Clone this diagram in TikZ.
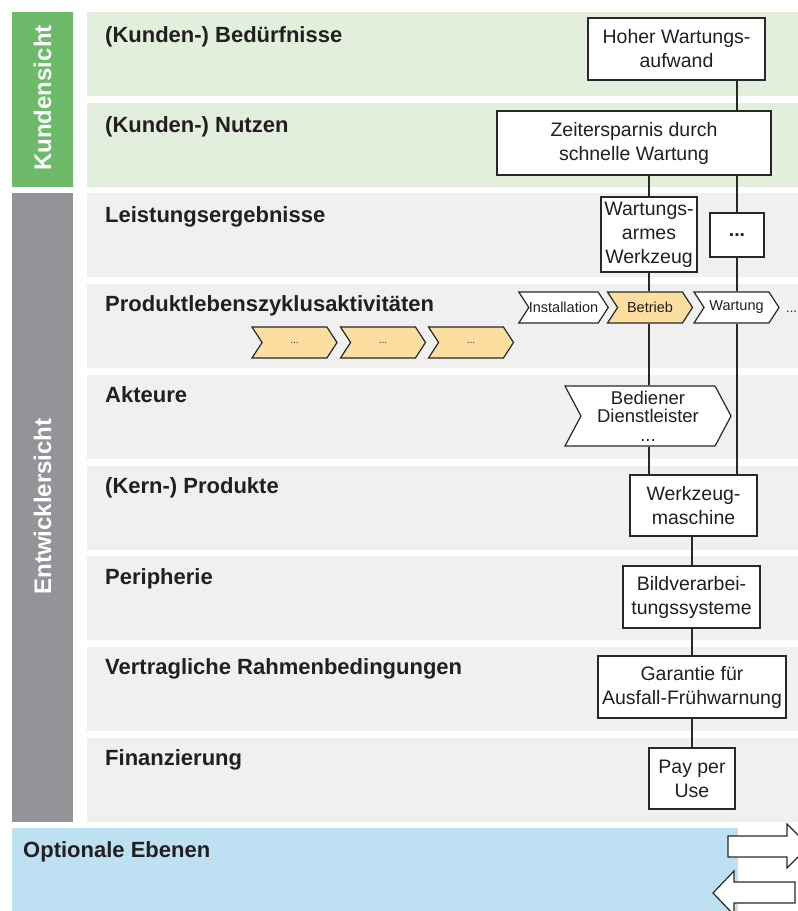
\documentclass[tikz,border=0pt]{standalone}
\usepackage{fontspec}
\setmainfont{Liberation Sans}
\usetikzlibrary{shapes.symbols}
\definecolor{kgreen}{RGB}{109,187,106}
\definecolor{kgreenl}{RGB}{226,239,220}
\definecolor{egray}{RGB}{147,148,152}
\definecolor{egrayl}{RGB}{240,240,240}
\definecolor{oblue}{RGB}{190,224,243}
\definecolor{chevor}{RGB}{252,222,160}
\definecolor{ink}{RGB}{35,31,32}
\definecolor{edgec}{RGB}{40,40,40}
\begin{document}
\begin{tikzpicture}[x=1pt,y=-1pt,
  box/.style={draw=edgec, line width=1.4pt, fill=white, align=center, inner sep=0pt, text=ink, font=\fontsize{19.5}{24}\selectfont},
  chev/.style={shape=signal, signal from=west, signal to=east, signal pointer angle=114, draw=edgec, line width=1.2pt, fill=white, inner sep=0pt, minimum width=85pt, minimum height=31pt, text=ink, font=\fontsize{14.5}{17}\selectfont},
  chevo/.style={chev, fill=chevor},
  smallchev/.style={chevo, font=\fontsize{10}{12}\selectfont},
  link/.style={draw=edgec, line width=1.3pt},
  lbl/.style={anchor=base west, font=\bfseries\fontsize{22}{26}\selectfont, text=ink, inner sep=0pt},
  side/.style={rotate=90, font=\bfseries\fontsize{24}{28}\selectfont, text=white, inner sep=0pt},
]
\useasboundingbox (0,0) rectangle (798,911);
\clip (0,0) rectangle (798,911);
% side bars
\fill[kgreen] (12,12) rectangle (73,186.7);
\fill[egray] (12,193.4) rectangle (73,821.6);
\node[side] (kunden) at (42.5,98) {Kundensicht};
\node[side] (entw) at (42.5,506.5) {Entwicklersicht};
% bands
\fill[kgreenl] (87,12) rectangle (800,96);
\fill[kgreenl] (87,102.7) rectangle (800,186.7);
\fill[egrayl] (87,193.4) rectangle (800,277.4);
\fill[egrayl] (87,284.1) rectangle (800,368.1);
\fill[egrayl] (87,374.8) rectangle (800,458.8);
\fill[egrayl] (87,465.5) rectangle (800,549.5);
\fill[egrayl] (87,556.2) rectangle (800,640.2);
\fill[egrayl] (87,646.9) rectangle (800,730.9);
\fill[egrayl] (87,737.6) rectangle (800,821.6);
\fill[oblue] (12,828.3) rectangle (738,912);
% labels
\node[lbl] (l0) at (105,42) {(Kunden-) Bedürfnisse};
\node[lbl] (l1) at (105,132) {(Kunden-) Nutzen};
\node[lbl] (l2) at (105,222.4) {Leistungsergebnisse};
\node[lbl] (l3) at (105,311.6) {Produktlebenszyklusaktivitäten};
\node[lbl] (l4) at (105,402.8) {Akteure};
\node[lbl] (l5) at (105,493.5) {(Kern-) Produkte};
\node[lbl] (l6) at (105,584.2) {Peripherie};
\node[lbl] (l7) at (105,674.9) {Vertragliche Rahmenbedingungen};
\node[lbl] (l8) at (105,765.6) {Finanzierung};
\node[lbl] (l9) at (23,857) {Optionale Ebenen};
% boxes
\node[box, minimum width=177pt, minimum height=62pt] (hoher) at (676.5,49) {Hoher Wartungs-\\aufwand};
\node[box, minimum width=274pt, minimum height=64pt] (zeit) at (634,143) {Zeitersparnis durch\\schnelle Wartung};
\node[box, minimum width=96pt, minimum height=75pt] (warm) at (649,234.5) {Wartungs-\\armes\\Werkzeug};
\node[box, minimum width=54pt, minimum height=44pt] (dbox) at (737,235) {\textbf{...}};
\node[box, minimum width=127pt, minimum height=61pt] (werk) at (693.5,505.5) {Werkzeug-\\maschine};
\node[box, minimum width=137pt, minimum height=62pt] (bild) at (691.5,597) {Bildverarbei-\\tungssysteme};
\node[box, minimum width=188pt, minimum height=62pt] (gar) at (692,687) {Garantie für\\Ausfall-Frühwarnung};
\node[box, minimum width=86pt, minimum height=61pt] (pay) at (692,778.5) {Pay per\\Use};
% chevrons
\node[chev] (inst) at (563.5,307.5) {Installation};
\node[chevo] (betrieb) at (650,307.5) {Betrieb};
\node[chev] (wartung) at (736.5,307.5) {Wartung};
\node[anchor=base west, inner sep=0pt, text=ink, font=\fontsize{13}{15}\selectfont] (more) at (786,312) {...};
\node[smallchev] (c1) at (294.5,342.5) {...};
\node[smallchev] (c2) at (383,342.5) {...};
\node[smallchev] (c3) at (471,342.5) {...};
\node[chev, signal pointer angle=124, minimum width=166pt, minimum height=60pt, align=center, font=\fontsize{18.5}{18.5}\selectfont] (akteure) at (648,416) {Bediener\\Dienstleister\\...};
% connectors
\coordinate (L) at (649,0);
\coordinate (R) at (737,0);
\coordinate (C) at (692,0);
\draw[link] (hoher.south -| R) -- (zeit.north -| R);
\draw[link] (zeit.south -| L) -- (warm.north -| L);
\draw[link] (zeit.south -| R) -- (dbox.north -| R);
\draw[link] (warm.south -| L) -- (betrieb.north -| L);
\draw[link] (dbox.south -| R) -- (wartung.north -| R);
\draw[link] (betrieb.south -| L) -- (akteure.north -| L);
\draw[link] (akteure.south -| L) -- (werk.north -| L);
\draw[link] (wartung.south -| R) -- (werk.north -| R);
\draw[link] (werk.south -| C) -- (bild.north -| C);
\draw[link] (bild.south -| C) -- (gar.north -| C);
\draw[link] (gar.south -| C) -- (pay.north -| C);
% optional level arrows
\draw[draw=edgec, line width=1.2pt, fill=white] (728,836) -- (787,836) -- (787,824) -- (809,846) -- (787,868) -- (787,857) -- (728,857) -- cycle;
\draw[draw=edgec, line width=1.2pt, fill=white] (795,882) -- (734,882) -- (734,871) -- (713,893) -- (734,915) -- (734,903) -- (795,903) -- cycle;
\end{tikzpicture}
\end{document}
